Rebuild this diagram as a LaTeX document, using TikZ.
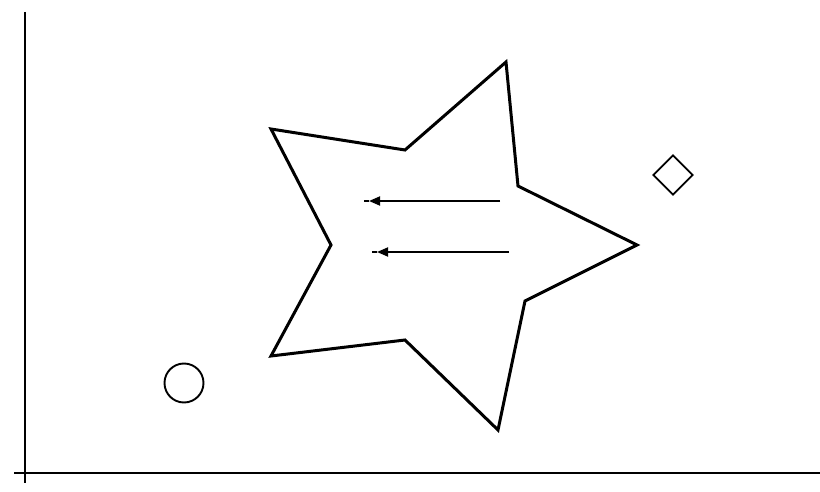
\documentclass[tikz,border=0pt]{standalone}
\usetikzlibrary{arrows.meta, shapes.geometric}

\begin{document}
\begin{tikzpicture}[
  x=1pt, y=-1pt,
  axisline/.style={line width=1.9pt, color=black},
  starline/.style={line width=3pt, line join=miter, color=black},
  flow/.style={-{Triangle[length=11pt, width=9pt]}, line width=1.8pt},
  tail/.style={line width=1.8pt},
  ring/.style={circle, draw, line width=1.9pt, minimum size=39pt, inner sep=0pt},
  rhomb/.style={diamond, draw, line width=1.9pt, minimum size=40pt, inner sep=0pt}
]
  \useasboundingbox (0,0) rectangle (820,492);

  % axes
  \coordinate (ytop) at (25,12);
  \coordinate (ybot) at (25,483);
  \coordinate (xleft) at (14,473);
  \coordinate (xright) at (820,473);
  \draw[axisline] (ytop) -- (ybot);
  \draw[axisline] (xleft) -- (xright);

  % star
  \draw[starline] (506,62) -- (518,186) -- (637,245) -- (525,301) -- (498,430)
    -- (405,340) -- (271,356) -- (331,245) -- (271,129) -- (405,150) -- cycle;

  % arrows inside the star
  \coordinate (a1s) at (500,201);
  \coordinate (a1t) at (369,201);
  \coordinate (a1e) at (364,201);
  \coordinate (a2s) at (509,252);
  \coordinate (a2t) at (377,252);
  \coordinate (a2e) at (372,252);
  \draw[flow] (a1s) -- (a1t);
  \draw[tail] (a1t) -- (a1e);
  \draw[flow] (a2s) -- (a2t);
  \draw[tail] (a2t) -- (a2e);

  % small shapes
  \node[ring] (dot) at (184,383) {};
  \node[rhomb] (gem) at (673,175) {};
\end{tikzpicture}
\end{document}
